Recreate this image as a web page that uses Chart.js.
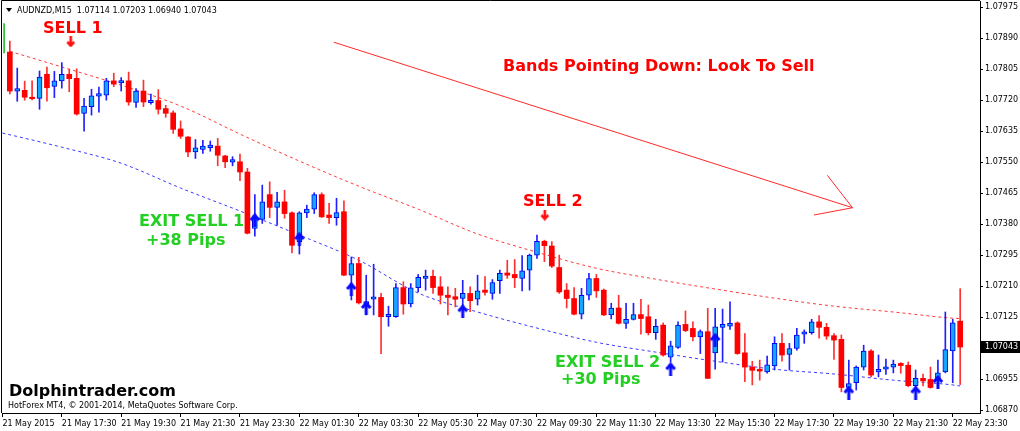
<!DOCTYPE html>
<html><head><meta charset="utf-8">
<script src="https://cdn.jsdelivr.net/npm/chart.js@4.4.1/dist/chart.umd.min.js"></script>
<style>html,body{margin:0;padding:0;background:#fff;overflow:hidden}</style>
</head><body>
<canvas id="c" width="1020" height="431"></canvas>
<script>
// ---------------- data ----------------
const symbol = 'AUDNZD,M15';
const firstSlot = 1; // slot index of the first candle (15-minute slots from 21 May 15:30)
const opens  = [1.07852,1.07745,1.07747,1.07728,1.07725,1.07791,1.07758,1.07773,1.07791,1.07780,1.07684,1.07702,1.07731,1.07734,1.07773,1.07767,1.07773,1.07714,1.07745,1.07713,1.07719,1.07697,1.07685,1.07641,1.07619,1.07578,1.07585,1.07590,1.07594,1.07567,1.07550,1.07551,1.07523,1.07368,1.07393,1.07461,1.07426,1.07441,1.07411,1.07332,1.07411,1.07421,1.07461,1.07405,1.07398,1.07414,1.07240,1.07272,1.07161,1.07174,1.07179,1.07126,1.07126,1.07206,1.07161,1.07206,1.07231,1.07237,1.07208,1.07185,1.07181,1.07176,1.07190,1.07174,1.07199,1.07190,1.07225,1.07246,1.07242,1.07231,1.07254,1.07295,1.07333,1.07320,1.07261,1.07199,1.07176,1.07133,1.07185,1.07231,1.07199,1.07131,1.07150,1.07108,1.07119,1.07132,1.07126,1.07082,1.07103,1.07015,1.07042,1.07105,1.07094,1.07071,1.07085,1.07027,1.07097,1.07100,1.07109,1.07027,1.06988,1.06982,1.06975,1.06991,1.07053,1.07023,1.07039,1.07078,1.07082,1.07112,1.07097,1.07074,1.07064,1.06932,1.06945,1.06988,1.07032,1.06975,1.06982,1.06988,1.06998,1.06993,1.06937,1.06957,1.06954,1.06954,1.06975,1.07032,1.07114];
const highs  = [1.07882,1.07808,1.07772,1.07773,1.07800,1.07811,1.07799,1.07823,1.07805,1.07806,1.07725,1.07750,1.07756,1.07780,1.07794,1.07782,1.07797,1.07752,1.07775,1.07737,1.07749,1.07706,1.07691,1.07663,1.07620,1.07612,1.07610,1.07608,1.07615,1.07569,1.07565,1.07572,1.07533,1.07461,1.07487,1.07496,1.07467,1.07473,1.07414,1.07414,1.07432,1.07466,1.07466,1.07437,1.07451,1.07444,1.07290,1.07289,1.07240,1.07270,1.07190,1.07155,1.07217,1.07222,1.07217,1.07242,1.07254,1.07254,1.07236,1.07208,1.07204,1.07226,1.07208,1.07240,1.07236,1.07228,1.07254,1.07281,1.07283,1.07294,1.07298,1.07350,1.07336,1.07332,1.07295,1.07217,1.07206,1.07204,1.07245,1.07242,1.07202,1.07163,1.07185,1.07163,1.07163,1.07174,1.07158,1.07119,1.07109,1.07059,1.07112,1.07142,1.07112,1.07090,1.07149,1.07149,1.07147,1.07167,1.07112,1.07080,1.07004,1.07007,1.07018,1.07071,1.07080,1.07053,1.07094,1.07090,1.07119,1.07129,1.07108,1.07080,1.07076,1.07007,1.06991,1.07048,1.07036,1.07021,1.07010,1.07007,1.07000,1.07002,1.06980,1.06969,1.06988,1.07007,1.07139,1.07119,1.07203];
const lows   = [1.07737,1.07717,1.07720,1.07721,1.07695,1.07717,1.07727,1.07753,1.07743,1.07679,1.07635,1.07679,1.07687,1.07720,1.07757,1.07745,1.07706,1.07700,1.07702,1.07709,1.07682,1.07673,1.07629,1.07615,1.07565,1.07560,1.07574,1.07580,1.07540,1.07535,1.07540,1.07499,1.07353,1.07347,1.07382,1.07398,1.07377,1.07396,1.07301,1.07298,1.07398,1.07409,1.07398,1.07382,1.07377,1.07239,1.07172,1.07161,1.07131,1.07131,1.07025,1.07100,1.07124,1.07133,1.07153,1.07194,1.07199,1.07190,1.07161,1.07131,1.07153,1.07144,1.07140,1.07158,1.07185,1.07174,1.07190,1.07231,1.07206,1.07197,1.07199,1.07286,1.07277,1.07261,1.07190,1.07150,1.07131,1.07120,1.07172,1.07179,1.07129,1.07120,1.07106,1.07094,1.07117,1.07078,1.07076,1.07064,1.07018,1.07002,1.07039,1.07085,1.07060,1.07025,1.06956,1.06982,1.07002,1.07091,1.07023,1.06948,1.06939,1.06952,1.06971,1.06980,1.07004,1.06980,1.07034,1.07053,1.07078,1.07067,1.07064,1.07009,1.06920,1.06920,1.06925,1.06980,1.06961,1.06961,1.06968,1.06972,1.06971,1.06934,1.06932,1.06936,1.06930,1.06934,1.06972,1.06945,1.06940];
const closes = [1.07745,1.07747,1.07728,1.07724,1.07783,1.07754,1.07773,1.07791,1.07779,1.07682,1.07704,1.07732,1.07735,1.07773,1.07764,1.07773,1.07715,1.07745,1.07715,1.07716,1.07695,1.07684,1.07640,1.07621,1.07578,1.07589,1.07594,1.07595,1.07569,1.07551,1.07552,1.07523,1.07355,1.07396,1.07441,1.07426,1.07441,1.07409,1.07322,1.07411,1.07421,1.07461,1.07400,1.07398,1.07412,1.07240,1.07272,1.07164,1.07167,1.07179,1.07126,1.07128,1.07206,1.07161,1.07205,1.07234,1.07237,1.07206,1.07185,1.07179,1.07174,1.07190,1.07170,1.07197,1.07193,1.07220,1.07245,1.07240,1.07233,1.07252,1.07295,1.07333,1.07321,1.07265,1.07194,1.07176,1.07133,1.07185,1.07231,1.07197,1.07131,1.07150,1.07108,1.07119,1.07132,1.07121,1.07082,1.07100,1.07021,1.07046,1.07103,1.07088,1.07071,1.07085,1.06957,1.07098,1.07105,1.07108,1.07025,1.06988,1.06979,1.06977,1.06994,1.07053,1.07021,1.07039,1.07076,1.07083,1.07112,1.07097,1.07073,1.07062,1.06932,1.06943,1.06988,1.07032,1.06966,1.06982,1.06988,1.06996,1.06992,1.06937,1.06957,1.06950,1.06932,1.06972,1.07036,1.07109,1.07043];

const timeTickSlots  = [0,8,16,24,32,40,48,56,64,72,80,88,96,104,112,120,128];
const timeTickLabels = ['21 May 2015','21 May 17:30','21 May 19:30','21 May 21:30','21 May 23:30','22 May 01:30','22 May 03:30','22 May 05:30','22 May 07:30','22 May 09:30','22 May 11:30','22 May 13:30','22 May 15:30','22 May 17:30','22 May 19:30','22 May 21:30','22 May 23:30'];
const priceTicks = [1.06870,1.06955,1.07125,1.07210,1.07295,1.07380,1.07465,1.07550,1.07635,1.07720,1.07805,1.07890,1.07975];

const upperBandSlots = [1,8,16,24,32,40,48,56,64,72,80,88,96,104,112,120,128,129];
const upperBand      = [1.07854,1.07811,1.07761,1.07704,1.07627,1.07553,1.07484,1.07421,1.07353,1.07303,1.07259,1.07229,1.07202,1.07177,1.07155,1.07139,1.07122,1.07121];
const lowerBandSlots = [0,8,16,24,32,40,48,56,64,72,80,88,96,104,112,120,128,129];
const lowerBand      = [1.07630,1.07591,1.07547,1.07479,1.07416,1.07350,1.07281,1.07191,1.07139,1.07095,1.07056,1.07029,1.07004,1.06982,1.06969,1.06952,1.06939,1.06936];

const exitArrowSlots  = [34,40,47,49,62,90,96,114,123,126];
const exitArrowPrices = [1.07391,1.07339,1.07202,1.07150,1.07141,1.06982,1.07062,1.06918,1.06918,1.06947];
const sellArrowSlots  = [9.2,73.05];
const sellArrowPrices = [1.07880,1.07405];

const trendSlots  = [44.63,114.5];
const trendPrices = [1.07879,1.07425];
const headSlots   = [111.1,114.5,109.3];
const headPrices  = [1.07514,1.07425,1.07405];
const markSlots   = [0.23,0.23];
const markPrices  = [1.07931,1.07849];

// ---------------- build datasets ----------------
const bullBodies=[], bearBodies=[], bullWicks=[], bearWicks=[];
opens.forEach((o,k)=>{
  const x = firstSlot + k, c = closes[k];
  const wick = {x, y:[lows[k], highs[k]]};
  if (c >= o) { bullBodies.push({x, y:[o,c]}); bullWicks.push(wick); }
  else { bearBodies.push({x, y:[c,o]}); bearWicks.push(wick); }
});
const pts = (xs, ys) => xs.map((x,k)=>({x, y: ys[k]}));

function arrowImage(color, up, w, h, lw){
  const cv = document.createElement('canvas'); cv.width=w; cv.height=h;
  const g = cv.getContext('2d');
  g.strokeStyle=color; g.lineWidth=lw; g.lineJoin='miter'; g.lineCap='butt';
  if(!up){ g.translate(0,h); g.scale(1,-1); }
  g.beginPath(); g.moveTo(w/2, lw/2); g.lineTo(w/2, h); g.stroke();
  g.beginPath(); g.moveTo(lw*0.6, h*0.5); g.lineTo(w/2, lw*0.7); g.lineTo(w-lw*0.6, h*0.5); g.stroke();
  return cv;
}
const blueArrow = arrowImage('#0a0aff', true, 12, 14, 3);
const redArrow  = arrowImage('#ff1010', false, 10, 11, 2.6);

const FONT = '"DejaVu Sans", Verdana, sans-serif';
const notes = [
  {t:'SELL 1', x:43, y:33, c:'#ff0000'},
  {t:'Bands Pointing Down: Look To Sell', x:503, y:71, c:'#ff0000'},
  {t:'SELL 2', x:523, y:206, c:'#ff0000'},
  {t:'EXIT SELL 1', x:139, y:226, c:'#22cf22'},
  {t:'+38 Pips', x:146, y:245, c:'#22cf22'},
  {t:'EXIT SELL 2', x:555, y:366.5, c:'#22cf22'},
  {t:'+30 Pips', x:561, y:384, c:'#22cf22'},
  {t:'Dolphintrader.com', x:9, y:396, c:'#000'}
];

const overlay = {
  id:'overlay',
  beforeDraw(chart){ const g=chart.ctx; g.save(); g.fillStyle='#fff'; g.fillRect(0,0,chart.width,chart.height); g.restore(); },
  afterDraw(chart){
    const g = chart.ctx, a = chart.chartArea;
    g.save();
    // frame (top & left)
    g.strokeStyle='#000'; g.lineWidth=1;
    g.beginPath(); g.moveTo(a.left-0.5, a.bottom); g.lineTo(a.left-0.5, a.top-0.5); g.lineTo(a.right, a.top-0.5); g.stroke();
    // header
    const n = opens.length-1;
    g.fillStyle='#000';
    g.beginPath(); g.moveTo(6,8); g.lineTo(12,8); g.lineTo(9,12); g.closePath(); g.fill();
    g.font='8px '+FONT; g.textBaseline='alphabetic'; g.textAlign='left';
    g.fillText(symbol+'  '+[opens[n],highs[n],lows[n],closes[n]].map(v=>v.toFixed(5)).join(' '), 17, 13);
    g.fillText('HotForex MT4, \u00A9 2001-2014, MetaQuotes Software Corp.', 8, 408);
    // annotations
    g.font='bold 16px '+FONT;
    notes.forEach(o=>{ g.fillStyle=o.c; g.fillText(o.t, o.x, o.y); });
    // current price label
    const ys = chart.scales.y, py = Math.round(ys.getPixelForValue(closes[n]));
    g.fillStyle='#000'; g.fillRect(a.right+1, py-6, 40, 12);
    g.fillStyle='#fff'; g.font='8px '+FONT; g.textBaseline='middle';
    g.fillText(closes[n].toFixed(5), a.right+5, py);
    g.restore();
  }
};

new Chart(document.getElementById('c'), {
  type:'bar',
  data:{ datasets:[
    {type:'line', label:'upper band', data:pts(upperBandSlots, upperBand), borderColor:'#ff3b3b', borderWidth:1, borderDash:[3,3], pointRadius:0, cubicInterpolationMode:'monotone', order:9},
    {type:'line', label:'lower band', data:pts(lowerBandSlots, lowerBand), borderColor:'#3a3aff', borderWidth:1, borderDash:[3,3], pointRadius:0, cubicInterpolationMode:'monotone', order:9},
    {type:'line', label:'trend', data:pts(trendSlots, trendPrices), borderColor:'#ff2a2a', borderWidth:1, pointRadius:0, order:8},
    {type:'line', label:'trend head', data:pts(headSlots, headPrices), borderColor:'#ff2a2a', borderWidth:1, pointRadius:0, order:8},
    {type:'line', label:'mark', data:pts(markSlots, markPrices), borderColor:'#18b418', borderWidth:1.5, pointRadius:0, order:8},
    {label:'bear wick', data:bearWicks, backgroundColor:'#ff3030', barThickness:1, order:6},
    {label:'bull wick', data:bullWicks, backgroundColor:'#2020ff', barThickness:1, order:6},
    {label:'bear body', data:bearBodies, backgroundColor:'#ff0000', barThickness:5, minBarLength:1.5, order:5},
    {label:'bull body', data:bullBodies, backgroundColor:'#12a6ff', borderColor:'#0000ee', borderWidth:1, borderSkipped:false, barThickness:5, minBarLength:2.5, order:5},
    {type:'line', label:'exit arrows', data:pts(exitArrowSlots, exitArrowPrices), showLine:false, pointStyle:blueArrow, pointRadius:6, order:1},
    {type:'line', label:'sell arrows', data:pts(sellArrowSlots, sellArrowPrices), showLine:false, pointStyle:redArrow, pointRadius:5, order:1}
  ]},
  options:{
    responsive:false, animation:false, devicePixelRatio:1,
    datasets:{ bar:{ grouped:false } },
    layout:{ autoPadding:false, padding:{left:2, top:1, right:0, bottom:0} },
    plugins:{ legend:{display:false}, tooltip:{enabled:false} },
    scales:{
      x:{ type:'linear', position:'bottom', min:-0.054, max:131.67, offset:false,
        grid:{ offset:false, drawOnChartArea:false, drawTicks:true, tickLength:4, color:'#000' },
        border:{ display:true, color:'#000' },
        ticks:{ autoSkip:false, maxRotation:0, minRotation:0, align:'start', padding:2, color:'#000', font:{family:FONT, size:8},
          callback:(v,i)=> timeTickLabels[i] },
        afterBuildTicks:s=>{ s.ticks = timeTickSlots.map(v=>({value:v})); },
        afterFit:s=>{ s.height=18; s.paddingLeft=0; s.paddingRight=0; }
      },
      y:{ type:'linear', position:'right', min:1.06862, max:1.07992,
        grid:{ drawOnChartArea:false, drawTicks:true, tickLength:3, color:'#000' },
        border:{ display:true, color:'#000' },
        ticks:{ padding:2, color:'#000', font:{family:FONT, size:8}, callback:v=>Number(v).toFixed(5) },
        afterBuildTicks:s=>{ s.ticks = priceTicks.map(v=>({value:v})); },
        afterFit:s=>{ s.width=40; s.paddingTop=0; s.paddingBottom=0; }
      }
    }
  },
  plugins:[overlay]
});
</script>
</body></html>
